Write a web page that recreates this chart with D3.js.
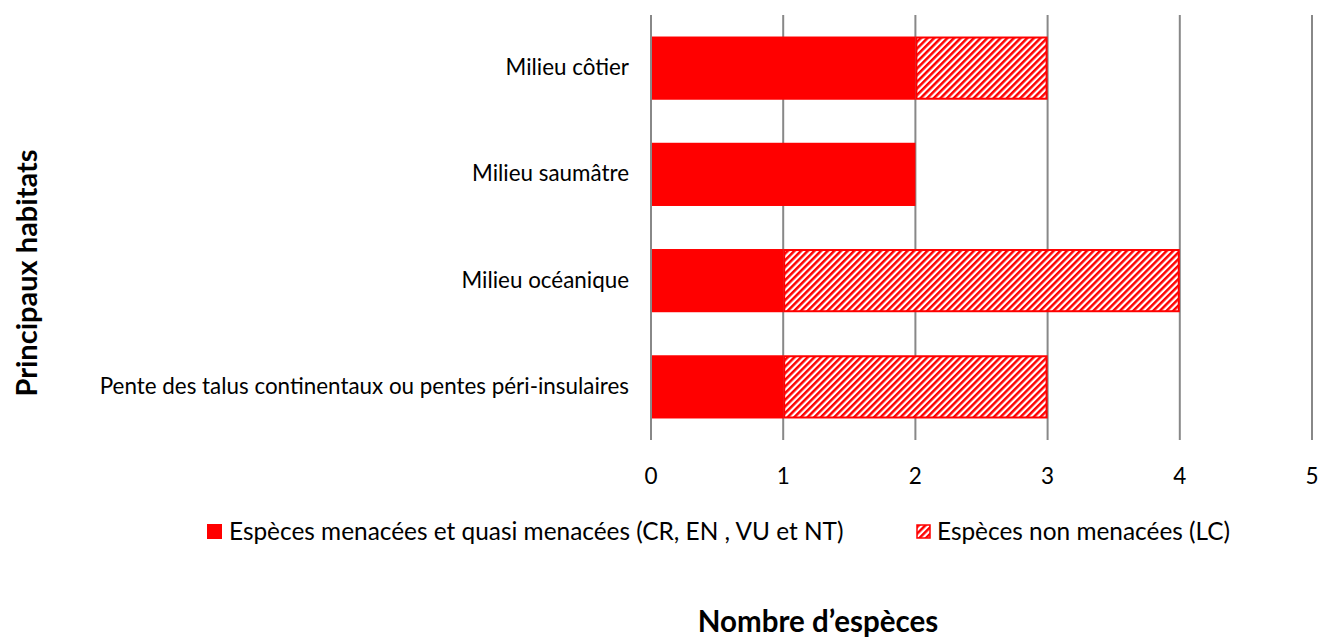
<!DOCTYPE html>
<html><head><meta charset="utf-8">
<script src="https://cdn.jsdelivr.net/npm/d3@7"></script>
<style>body{margin:0;background:#fff}svg{display:block}text{font-family:Lato,"Open Sans",sans-serif;fill:#000}</style>
</head><body>
<svg id="c" width="1327" height="637"></svg>
<script>
const categories = ["Milieu côtier","Milieu saumâtre","Milieu océanique","Pente des talus continentaux ou pentes péri-insulaires"];
const menacees = [2,2,1,1];
const nonMenacees = [1,0,3,2];
const ticks = [0,1,2,3,4,5];
const seriesNames = ["Espèces menacées et quasi menacées (CR, EN , VU et NT)","Espèces non menacées (LC)"];
const xTitle = "Nombre d’espèces";
const yTitle = "Principaux habitats";

const svg = d3.select("#c");
const defs = svg.append("defs");
const pat = defs.append("pattern").attr("id","hatch").attr("patternUnits","userSpaceOnUse")
  .attr("width",4.7).attr("height",4.7).attr("patternTransform","rotate(45)");
pat.append("rect").attr("width",4.7).attr("height",4.7).attr("fill","#fff");
pat.append("rect").attr("width",2.5).attr("height",4.7).attr("fill","#ff0000");

const x = d3.scaleLinear().domain([0,5]).range([651,1312]);
const y = d3.scaleBand().domain(categories).range([15,440]).paddingInner(0.405).paddingOuter(0.2025);

svg.append("g").selectAll("line").data(ticks).join("line")
  .attr("x1",d=>x(d)).attr("x2",d=>x(d)).attr("y1",15).attr("y2",440)
  .attr("stroke","#888").attr("stroke-width",2);

svg.append("g").selectAll("text").data(ticks).join("text")
  .attr("x",d=>x(d)).attr("y",484).attr("text-anchor","middle").attr("font-size",22.5).text(d=>d);

const rows = categories.map((c,i)=>({c,a:menacees[i],b:nonMenacees[i]}));
svg.append("g").selectAll("rect").data(rows).join("rect")
  .attr("x",x(0)+1).attr("y",d=>y(d.c)).attr("width",d=>x(d.a)-x(0)-1).attr("height",y.bandwidth())
  .attr("fill","#ff0000");
svg.append("g").selectAll("rect").data(rows.filter(d=>d.b>0)).join("rect")
  .attr("x",d=>x(d.a)+1).attr("y",d=>y(d.c)+1).attr("width",d=>x(d.a+d.b)-x(d.a)-2).attr("height",y.bandwidth()-2)
  .attr("fill","url(#hatch)").attr("stroke","#ff0000").attr("stroke-width",2);

svg.append("g").selectAll("text").data(categories).join("text")
  .attr("x",629).attr("y",d=>y(d)+y.bandwidth()/2+7).attr("text-anchor","end").attr("font-size",22.4).text(d=>d);

const lg = svg.append("g");
lg.append("rect").attr("x",207).attr("y",524).attr("width",15).attr("height",15).attr("fill","#ff0000");
lg.append("text").attr("x",229).attr("y",540).attr("font-size",24.4).text(seriesNames[0]);
lg.append("rect").attr("x",917).attr("y",525).attr("width",13).attr("height",13).attr("fill","url(#hatch)").attr("stroke","#ff0000").attr("stroke-width",1.5);
lg.append("text").attr("x",937).attr("y",540).attr("font-size",24.4).text(seriesNames[1]);

svg.append("text").attr("x",818).attr("y",632).attr("text-anchor","middle").attr("font-size",29.5).attr("font-weight","bold").text(xTitle);
svg.append("text").attr("transform","translate(37,273) rotate(-90)").attr("text-anchor","middle").attr("font-size",29).attr("font-weight","bold").text(yTitle);
</script>
</body></html>
